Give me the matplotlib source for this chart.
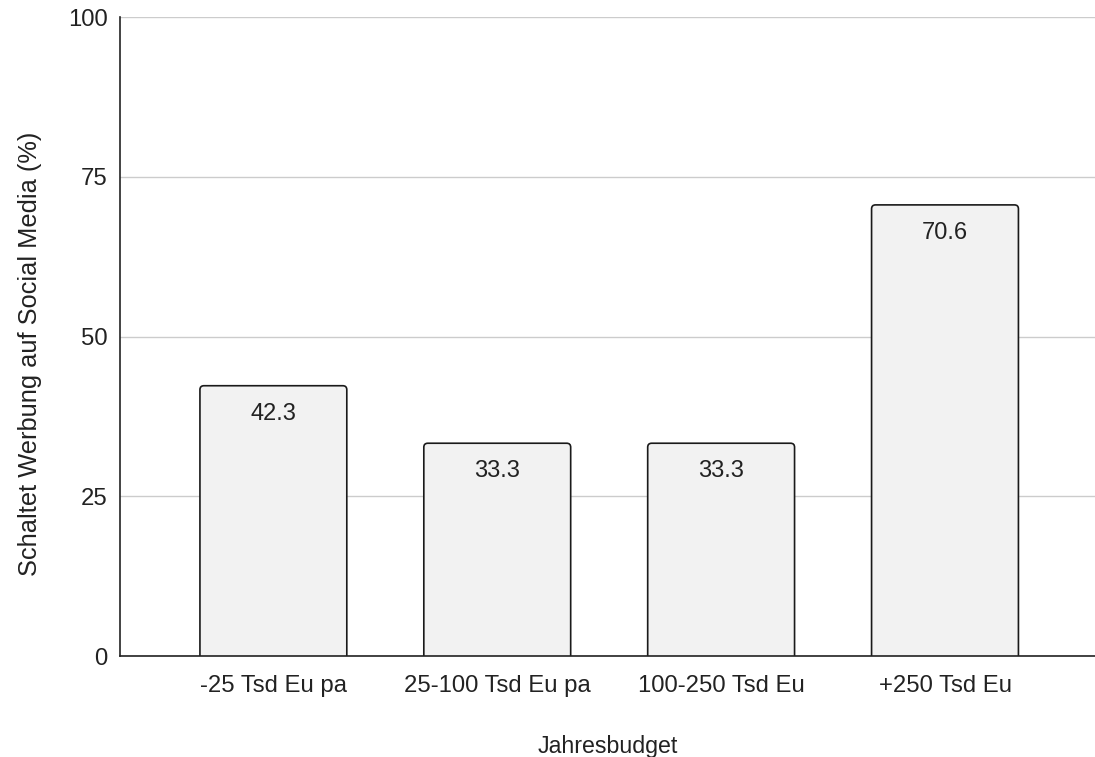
import matplotlib
matplotlib.use("Agg")
import matplotlib.pyplot as plt
from matplotlib.patches import FancyBboxPatch

categories = ["-25 Tsd Eu pa", "25-100 Tsd Eu pa", "100-250 Tsd Eu", "+250 Tsd Eu"]
values = [42.3, 33.3, 33.3, 70.6]
y_ticks = [0, 25, 50, 75, 100]

plt.rcParams["font.family"] = ["Liberation Sans", "DejaVu Sans"]

fig = plt.figure(figsize=(10.95, 7.57), dpi=100)
ax = fig.add_axes([0.1096, 0.1334, 0.8904, 0.8441])

x = list(range(len(categories)))
bars = ax.bar(x, values, width=0.656, color="none", edgecolor="none")

ax.set_xlim(-0.685, 3.67)
ax.set_ylim(0, 100)

# data units per pixel, for circular rounded corners
x_per_px = (3.67 + 0.685) / (0.8904 * 1095)
y_per_px = 100 / (0.8441 * 757)
radius = 4 * x_per_px

for b, v in zip(bars, values):
    patch = FancyBboxPatch(
        (b.get_x(), b.get_y() - 5), b.get_width(), b.get_height() + 5,
        boxstyle=f"round,pad=0,rounding_size={radius}",
        mutation_aspect=y_per_px / x_per_px,
        facecolor="#f2f2f2", edgecolor="#1a1a1a", linewidth=1.2,
        zorder=3, clip_on=True,
    )
    ax.add_patch(patch)
    ax.text(b.get_x() + b.get_width() / 2, v - 4.4, f"{v:.1f}",
            ha="center", va="center", fontsize=17, color="#222222", zorder=4)

ax.set_yticks(y_ticks)
ax.set_yticklabels([str(t) for t in y_ticks])
ax.set_xticks(x)
ax.set_xticklabels(categories)
ax.tick_params(axis="both", length=0, labelsize=17.2, colors="#222222")
ax.tick_params(axis="x", pad=14)
ax.tick_params(axis="y", pad=9)

ax.grid(axis="y", color="#cccccc", linewidth=1.0, zorder=0)
ax.set_axisbelow(True)
for s in ["top", "right"]:
    ax.spines[s].set_visible(False)
for s in ["left", "bottom"]:
    ax.spines[s].set_color("#222222")
    ax.spines[s].set_linewidth(1.2)
    ax.spines[s].set_zorder(5)

ax.set_xlabel("Jahresbudget", fontsize=16.7, color="#222222", labelpad=27)
ax.set_ylabel("Schaltet Werbung auf Social Media (%)", fontsize=18.3,
              color="#222222", va="center")
ax.yaxis.set_label_coords(-0.0923, 0.4726)

fig.savefig("out.png", dpi=100, facecolor="white")
